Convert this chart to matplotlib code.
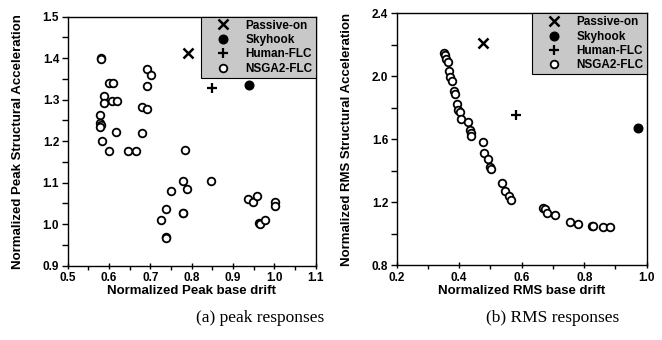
import matplotlib
matplotlib.use("Agg")
import matplotlib.pyplot as plt
from matplotlib.ticker import MultipleLocator, FormatStrFormatter
from matplotlib.lines import Line2D

plt.rcParams['font.family'] = ['Liberation Sans', 'DejaVu Sans']

# ---------------- data: (a) peak responses ----------------
peak_nsga_x = [0.582, 0.582, 0.600, 0.611, 0.589, 0.587, 0.608, 0.620, 0.579, 0.579,
               0.580, 0.579, 0.616, 0.583, 0.600, 0.645, 0.665, 0.693, 0.701, 0.692,
               0.680, 0.693, 0.679, 0.784, 0.778, 0.789, 0.749, 0.846, 0.937, 0.948,
               0.958, 1.001, 1.001, 0.962, 0.965, 0.977, 0.738, 0.726, 0.778, 0.779,
               0.738, 0.739]
peak_nsga_y = [1.401, 1.397, 1.340, 1.340, 1.308, 1.293, 1.297, 1.297, 1.262, 1.245,
               1.239, 1.235, 1.221, 1.200, 1.176, 1.176, 1.176, 1.373, 1.359, 1.333,
               1.283, 1.278, 1.220, 1.178, 1.104, 1.086, 1.081, 1.104, 1.061, 1.053,
               1.069, 1.054, 1.044, 1.002, 1.000, 1.010, 1.036, 1.010, 1.027, 1.026,
               0.968, 0.967]
peak_passive = (0.792, 1.412)
peak_skyhook = (0.939, 1.335)
peak_human = (0.848, 1.329)

# ---------------- data: (b) RMS responses ----------------
rms_nsga_x = [0.353, 0.355, 0.358, 0.365, 0.367, 0.371, 0.377, 0.384, 0.388, 0.394,
              0.398, 0.403, 0.407, 0.429, 0.436, 0.437, 0.438, 0.476, 0.479, 0.494,
              0.499, 0.501, 0.536, 0.547, 0.560, 0.565, 0.668, 0.676, 0.681, 0.708,
              0.755, 0.780, 0.825, 0.827, 0.859, 0.884]
rms_nsga_y = [2.146, 2.135, 2.110, 2.091, 2.036, 1.995, 1.970, 1.909, 1.890, 1.826,
              1.786, 1.771, 1.731, 1.708, 1.659, 1.640, 1.619, 1.585, 1.515, 1.473,
              1.426, 1.413, 1.325, 1.274, 1.240, 1.213, 1.162, 1.156, 1.134, 1.117,
              1.073, 1.064, 1.052, 1.048, 1.041, 1.041]
rms_passive = (0.478, 2.210)
rms_skyhook = (0.971, 1.670)
rms_human = (0.582, 1.754)

legend_labels = ['Passive-on', 'Skyhook', 'Human-FLC', 'NSGA2-FLC']
captions = ['(a) peak responses', '(b) RMS responses']

fig = plt.figure(figsize=(6.62, 3.40), dpi=100)
axL = fig.add_axes([0.102, 0.2185, 0.375, 0.7325])
axR = fig.add_axes([0.599, 0.2197, 0.378, 0.741])

circ_kw = dict(ls='none', marker='o', ms=5.5, mfc='white', mec='black', mew=1.3)
x_kw = dict(ls='none', marker='x', ms=6.5, mec='black', mew=1.8)
p_kw = dict(ls='none', marker='+', ms=7.5, mec='black', mew=1.6)
s_kw = dict(ls='none', marker='o', ms=6.2, mfc='black', mec='black')

def draw(ax, nx, ny, passive, skyhook, human):
    ax.plot(nx, ny, **circ_kw, zorder=3)
    ax.plot([passive[0]], [passive[1]], **x_kw, zorder=3)
    ax.plot([skyhook[0]], [skyhook[1]], **s_kw, zorder=3)
    ax.plot([human[0]], [human[1]], **p_kw, zorder=3)
    handles = [Line2D([], [], **x_kw), Line2D([], [], **s_kw),
               Line2D([], [], **p_kw), Line2D([], [], **circ_kw)]
    leg = ax.legend(handles, legend_labels, loc='upper right', borderaxespad=0,
                    fancybox=False, framealpha=1, edgecolor='black',
                    facecolor='#c8c8c8', prop=dict(weight='bold', size=8.5),
                    handlelength=3.2, handletextpad=0.3, labelspacing=0.2,
                    borderpad=0.25)
    leg.get_frame().set_linewidth(0.8)
    leg.set_zorder(5)
    for s in ax.spines.values():
        s.set_linewidth(1.0)
    ax.tick_params(axis='x', which='both', direction='inout', length=5, width=1,
                   labelsize=8.5, pad=2)
    ax.tick_params(axis='x', which='minor', direction='out', length=3)
    ax.tick_params(axis='y', which='both', direction='out', length=4, width=1,
                   labelsize=8.5, pad=2)

draw(axL, peak_nsga_x, peak_nsga_y, peak_passive, peak_skyhook, peak_human)
axL.set_xlim(0.5, 1.1)
axL.set_ylim(0.9, 1.5)
axL.xaxis.set_major_locator(MultipleLocator(0.1))
axL.xaxis.set_minor_locator(MultipleLocator(0.05))
axL.yaxis.set_major_locator(MultipleLocator(0.1))
axL.yaxis.set_minor_locator(MultipleLocator(0.05))
axL.xaxis.set_major_formatter(FormatStrFormatter('%.1f'))
axL.yaxis.set_major_formatter(FormatStrFormatter('%.1f'))
axL.set_xlabel('Normalized Peak base drift', fontsize=9.5, fontweight='bold', labelpad=1)
axL.set_ylabel('Normalized Peak Structural Acceleration', fontsize=9.5, fontweight='bold')
axL.yaxis.set_label_coords(-0.175, 0.5)

draw(axR, rms_nsga_x, rms_nsga_y, rms_passive, rms_skyhook, rms_human)
axR.set_xlim(0.2, 1.0)
axR.set_ylim(0.8, 2.4)
axR.xaxis.set_major_locator(MultipleLocator(0.2))
axR.xaxis.set_minor_locator(MultipleLocator(0.1))
axR.yaxis.set_major_locator(MultipleLocator(0.4))
axR.yaxis.set_minor_locator(MultipleLocator(0.2))
axR.xaxis.set_major_formatter(FormatStrFormatter('%.1f'))
axR.yaxis.set_major_formatter(FormatStrFormatter('%.1f'))
axR.set_xlabel('Normalized RMS base drift', fontsize=9.5, fontweight='bold', labelpad=1)
axR.set_ylabel('Normalized RMS Structural Acceleration', fontsize=9.5, fontweight='bold')
axR.yaxis.set_label_coords(-0.175, 0.5)

for lab in axL.get_xticklabels() + axL.get_yticklabels() + axR.get_xticklabels() + axR.get_yticklabels():
    lab.set_fontweight('bold')

fig.text(260 / 662, 1 - 318 / 340, captions[0], fontsize=12.5, family='Liberation Serif',
         ha='center', va='center')
fig.text(553 / 662, 1 - 318 / 340, captions[1], fontsize=12.5, family='Liberation Serif',
         ha='center', va='center')

fig.savefig('out.png', dpi=100)
